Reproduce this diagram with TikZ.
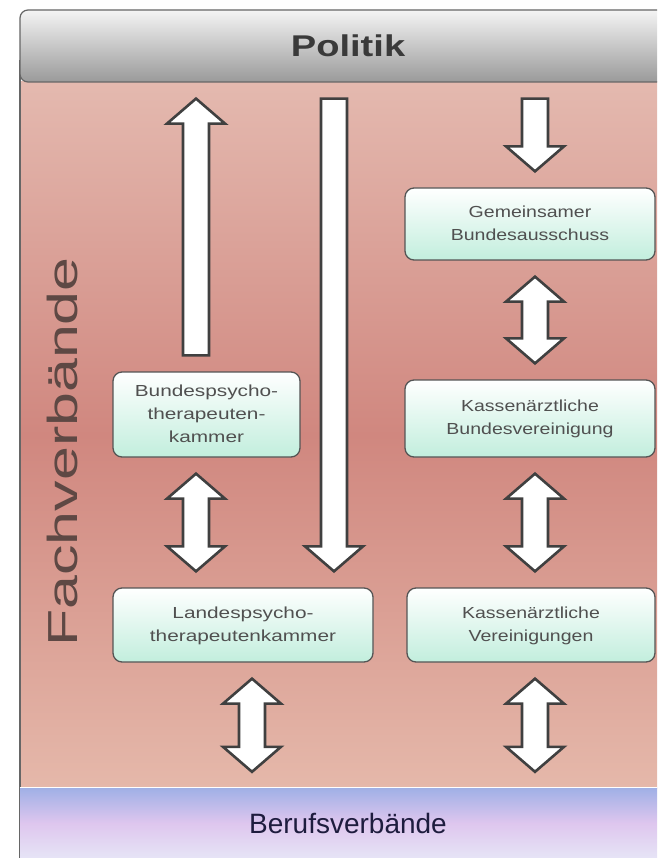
\documentclass[tikz,border=0pt]{standalone}
\usepackage{fontspec}
\setmainfont{Liberation Sans}
\usetikzlibrary{calc}

\definecolor{headtop}{HTML}{F4F4F4}
\definecolor{headbot}{HTML}{9A9A9A}
\definecolor{framegray}{HTML}{666666}
\definecolor{headtxt}{HTML}{3A3A3A}
\definecolor{pinktop}{HTML}{E4B9AF}
\definecolor{pinkmid}{HTML}{D0877F}
\definecolor{pinkbot}{HTML}{E5B8AA}
\definecolor{bandtop}{HTML}{A0B0E6}
\definecolor{bandmid}{HTML}{DEC6EE}
\definecolor{bandbot}{HTML}{E6E4F6}
\definecolor{bandtxt}{HTML}{1E1C3E}
\definecolor{mint}{HTML}{C2EEDD}
\definecolor{boxgray}{HTML}{555555}
\definecolor{boxtxt}{HTML}{505050}
\definecolor{arrgray}{HTML}{404040}
\definecolor{fachtxt}{HTML}{5E4844}

% sizes of the hollow arrows
\newcommand{\arrS}{13pt}
\newcommand{\arrH}{29pt}
\newcommand{\arrL}{25pt}
\newcommand{\arrG}{16pt}

% stretched lines of text
\newcommand{\wide}[2][1.3]{\scalebox{#1}[1]{\begin{tabular}{@{}c@{}}#2\end{tabular}}}

% hollow arrows: column, from, to
\newcommand{\arrUp}[3]{%
	\draw[fatarr] let \p1=(#1), \p2=(#2), \p3=(#3) in
	(\x1-\arrS,\y2+\arrG) -- (\x1-\arrS,\y3-\arrG-\arrL) -- (\x1-\arrH,\y3-\arrG-\arrL)
	-- (\x1,\y3-\arrG) -- (\x1+\arrH,\y3-\arrG-\arrL) -- (\x1+\arrS,\y3-\arrG-\arrL)
	-- (\x1+\arrS,\y2+\arrG) -- cycle;}
\newcommand{\arrDown}[3]{%
	\draw[fatarr] let \p1=(#1), \p2=(#2), \p3=(#3) in
	(\x1-\arrS,\y2-\arrG) -- (\x1-\arrS,\y3+\arrG+\arrL) -- (\x1-\arrH,\y3+\arrG+\arrL)
	-- (\x1,\y3+\arrG) -- (\x1+\arrH,\y3+\arrG+\arrL) -- (\x1+\arrS,\y3+\arrG+\arrL)
	-- (\x1+\arrS,\y2-\arrG) -- cycle;}
\newcommand{\arrBoth}[3]{%
	\draw[fatarr] let \p1=(#1), \p2=(#2), \p3=(#3) in
	(\x1,\y2-\arrG) -- (\x1+\arrH,\y2-\arrG-\arrL) -- (\x1+\arrS,\y2-\arrG-\arrL)
	-- (\x1+\arrS,\y3+\arrG+\arrL) -- (\x1+\arrH,\y3+\arrG+\arrL) -- (\x1,\y3+\arrG)
	-- (\x1-\arrH,\y3+\arrG+\arrL) -- (\x1-\arrS,\y3+\arrG+\arrL)
	-- (\x1-\arrS,\y2-\arrG-\arrL) -- (\x1-\arrH,\y2-\arrG-\arrL) -- cycle;}

\begin{document}
\begin{tikzpicture}[x=1pt,y=-1pt,
		head/.style={draw=framegray,line width=1.2pt,rounded corners=8pt,top color=headtop,bottom color=headbot,
			minimum width=656pt,minimum height=72pt,inner sep=0pt,font=\fontsize{30}{36}\selectfont\bfseries,text=headtxt},
		band/.style={top color=bandtop,bottom color=bandbot,middle color=bandmid,
			minimum width=656pt,minimum height=70pt,inner sep=0pt,font=\fontsize{28}{34}\selectfont,text=bandtxt},
		org/.style={draw=boxgray,line width=1.3pt,rounded corners=9pt,top color=white,bottom color=mint,
			inner sep=0pt,font=\fontsize{16}{23}\selectfont,text=boxtxt},
		side/.style={font=\fontsize{42}{48}\selectfont,text=fachtxt},
		fatarr/.style={draw=arrgray,fill=white,line width=2.6pt,line join=miter}
		]
		\useasboundingbox (0,0) rectangle (657,858);
		\clip (0,0) rectangle (657,858);
		
		% --- background: pink field and left edge
		\path[top color=pinktop,bottom color=pinkbot,middle color=pinkmid] (20,82) rectangle (676,788);
		\draw[framegray,line width=1.2pt] (20,60) -- (20,858);
		
		% --- top and bottom bars
		\node[head] (politik) at (348,46) {\scalebox{1.27}[1]{Politik}};
		\node[band] (beruf) at (348,823) {Berufsverbände};
		\draw[white,line width=1.2pt] (beruf.north west) -- (beruf.north east);
		
		\node[side,rotate=90] (fach) at (62,452) {\scalebox{1.45}[1]{Fachverbände}};
		
		% --- organisations
		\node[org,minimum width=187pt,minimum height=85pt] (bpk) at (206.5,414.5) {\wide{Bundespsycho-\\therapeuten-\\kammer}};
		\node[org,minimum width=260pt,minimum height=74pt] (lpk) at (243,625) {\wide{Landespsycho-\\therapeutenkammer}};
		\node[org,minimum width=250pt,minimum height=72pt] (gba) at (530,224) {\wide[1.22]{Gemeinsamer\\Bundesausschuss}};
		\node[org,minimum width=250pt,minimum height=77pt] (kbv) at (530,418.5) {\wide[1.22]{Kassenärztliche\\Bundesvereinigung}};
		\node[org,minimum width=248pt,minimum height=74pt] (kv) at (531,625) {\wide[1.22]{Kassenärztliche\\Vereinigungen}};
		
		% --- arrow columns
		\coordinate (colA) at (196,0);
		\coordinate (colB) at (334,0);
		\coordinate (colC) at (535,0);
		\coordinate (colD) at (252,0);
		
		\arrUp{colA}{bpk.north}{politik.south}
		\arrDown{colB}{politik.south}{lpk.north}
		\arrDown{colC}{politik.south}{gba.north}
		\arrBoth{colC}{gba.south}{kbv.north}
		\arrBoth{colC}{kbv.south}{kv.north}
		\arrBoth{colA}{bpk.south}{lpk.north}
		\arrBoth{colD}{lpk.south}{beruf.north}
		\arrBoth{colC}{kv.south}{beruf.north}
		
	\end{tikzpicture}
\end{document}
